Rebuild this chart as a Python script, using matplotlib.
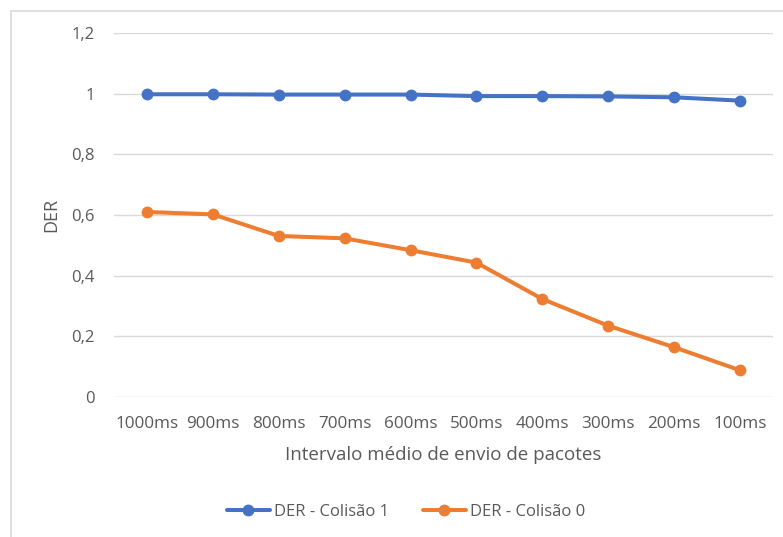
import matplotlib
matplotlib.use("Agg")
import matplotlib.pyplot as plt
from matplotlib.patches import Rectangle

# Excel-like palette
BLUE = "#4472c4"
ORANGE = "#ed7d31"
TEXT = "#595959"
GRID = "#d9d9d9"

intervals = ["1000ms", "900ms", "800ms", "700ms", "600ms",
             "500ms", "400ms", "300ms", "200ms", "100ms"]
der_colisao1 = [0.998, 0.998, 0.997, 0.997, 0.997, 0.992, 0.992, 0.991, 0.988, 0.977]
der_colisao0 = [0.610, 0.602, 0.531, 0.523, 0.484, 0.443, 0.323, 0.235, 0.164, 0.088]
y_ticks = [0, 0.2, 0.4, 0.6, 0.8, 1.0, 1.2]
y_tick_labels = ["0", "0,2", "0,4", "0,6", "0,8", "1", "1,2"]

plt.rcParams.update({
    "font.family": ["Open Sans", "DejaVu Sans"],
    "text.color": TEXT,
    "axes.labelcolor": TEXT,
    "xtick.color": TEXT,
    "ytick.color": TEXT,
})

W, H = 783, 537
fig = plt.figure(figsize=(W / 100, H / 100), dpi=100)
fig.patch.set_facecolor("white")

# chart-area border (only top/left edges visible)
fig.patches.append(Rectangle((10.5 / W, -0.1), 1.2, (H - 10.5) / H + 0.1,
                             transform=fig.transFigure, fill=False,
                             edgecolor=GRID, linewidth=1.2))

ax = fig.add_axes([114 / W, (H - 397) / H, 659 / W, 364 / H])
x = range(len(intervals))
ax.plot(x, der_colisao1, color=BLUE, lw=2.9, marker="o", ms=7.5,
        label="DER - Colisão 1", solid_capstyle="round")
ax.plot(x, der_colisao0, color=ORANGE, lw=2.9, marker="o", ms=7.5,
        label="DER - Colisão 0", solid_capstyle="round")

ax.set_xlim(-0.5, len(intervals) - 0.5)
ax.set_ylim(0, 1.2)
ax.set_yticks(y_ticks, y_tick_labels, fontsize=12)
ax.set_xticks(list(x), intervals, fontsize=12.3)
ax.tick_params(length=0)
ax.tick_params(axis="y", pad=14)
ax.tick_params(axis="x", pad=14)
ax.grid(axis="y", color=GRID, lw=1)
ax.set_axisbelow(True)
for side in ["top", "right", "left", "bottom"]:
    ax.spines[side].set_visible(False)

ax.set_xlabel("Intervalo médio de envio de pacotes", fontsize=13.5, labelpad=10)
ax.set_ylabel("DER", fontsize=13, labelpad=8)

fig.legend(loc="center", bbox_to_anchor=(406 / W, (H - 512) / H), ncol=2,
           frameon=False, fontsize=12, handlelength=2.6, columnspacing=2.0,
           handletextpad=0.25)

fig.savefig("out.png", dpi=100, facecolor="white")
